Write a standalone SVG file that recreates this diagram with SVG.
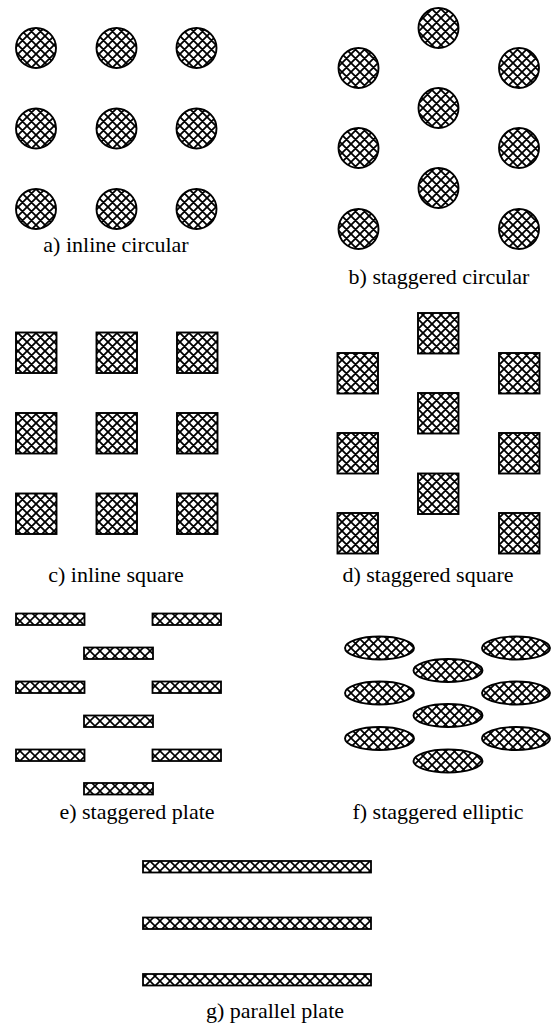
<svg xmlns="http://www.w3.org/2000/svg" width="551" height="1028" viewBox="0 0 551 1028">
<defs>
<pattern id="h" patternUnits="userSpaceOnUse" width="9" height="9">
<rect width="9" height="9" fill="#fff"/>
<path d="M0 0L9 9M0 9L9 0M-1 1L1 -1M8 10L10 8M-1 8L1 10M8 -1L10 1" stroke="#000" stroke-width="1.8"/>
</pattern>
<pattern id="hp" patternUnits="userSpaceOnUse" width="10" height="10" y="1">
<rect width="10" height="10" fill="#fff"/>
<path d="M0 0L10 10M0 10L10 0" stroke="#000" stroke-width="1.6"/>
</pattern>
<pattern id="he" patternUnits="userSpaceOnUse" width="9" height="9">
<rect width="9" height="9" fill="#fff"/>
<path d="M0 0L9 9M0 9L9 0" stroke="#000" stroke-width="1.7"/>
</pattern>
</defs>
<style>
.c{fill:url(#h);stroke:#000;stroke-width:1.9}
.p{fill:url(#hp);stroke:#000;stroke-width:1.8}
.e{fill:url(#he);stroke:#000;stroke-width:1.9}
.t{font-family:'Liberation Serif','DejaVu Serif',serif;font-size:22px;fill:#000;text-anchor:middle}
</style>
<rect width="551" height="1028" fill="#fff"/>
<g id="panel-a">
<circle class="c" cx="36" cy="48" r="20"/><circle class="c" cx="116.5" cy="48" r="20"/><circle class="c" cx="196.5" cy="48" r="20"/>
<circle class="c" cx="36" cy="128.5" r="20"/><circle class="c" cx="116.5" cy="128.5" r="20"/><circle class="c" cx="196.5" cy="128.5" r="20"/>
<circle class="c" cx="36" cy="209" r="20"/><circle class="c" cx="116.5" cy="209" r="20"/><circle class="c" cx="196.5" cy="209" r="20"/>
<text class="t" x="116" y="252">a) inline circular</text>
</g>
<g id="panel-b">
<circle class="c" cx="438.5" cy="28" r="20"/><circle class="c" cx="438.5" cy="108" r="20"/><circle class="c" cx="438.5" cy="188" r="20"/>
<circle class="c" cx="358.5" cy="68" r="20"/><circle class="c" cx="358.5" cy="148" r="20"/><circle class="c" cx="358.5" cy="229" r="20"/>
<circle class="c" cx="519" cy="68" r="20"/><circle class="c" cx="519" cy="148" r="20"/><circle class="c" cx="519" cy="229" r="20"/>
<text class="t" x="439" y="284">b) staggered circular</text>
</g>
<g id="panel-c">
<rect class="c" x="16" y="332.5" width="40.5" height="40.5"/><rect class="c" x="96.5" y="332.5" width="40.5" height="40.5"/><rect class="c" x="177" y="332.5" width="40.5" height="40.5"/>
<rect class="c" x="16" y="413" width="40.5" height="40.5"/><rect class="c" x="96.5" y="413" width="40.5" height="40.5"/><rect class="c" x="177" y="413" width="40.5" height="40.5"/>
<rect class="c" x="16" y="493.5" width="40.5" height="40.5"/><rect class="c" x="96.5" y="493.5" width="40.5" height="40.5"/><rect class="c" x="177" y="493.5" width="40.5" height="40.5"/>
<text class="t" x="116" y="582">c) inline square</text>
</g>
<g id="panel-d">
<rect class="c" x="418" y="313" width="40.5" height="40.5"/><rect class="c" x="418" y="393" width="40.5" height="40.5"/><rect class="c" x="418" y="473.5" width="40.5" height="40.5"/>
<rect class="c" x="337.5" y="353" width="40.5" height="40.5"/><rect class="c" x="337.5" y="433" width="40.5" height="40.5"/><rect class="c" x="337.5" y="513" width="40.5" height="40.5"/>
<rect class="c" x="499" y="353" width="40.5" height="40.5"/><rect class="c" x="499" y="433" width="40.5" height="40.5"/><rect class="c" x="499" y="513" width="40.5" height="40.5"/>
<text class="t" x="428" y="582">d) staggered square</text>
</g>
<g id="panel-e">
<rect class="p" x="16" y="613.5" width="68.5" height="11.5"/><rect class="p" x="152.5" y="613.5" width="68.5" height="11.5"/>
<rect class="p" x="84" y="647.5" width="69" height="11.5"/>
<rect class="p" x="16" y="681.5" width="68.5" height="11.5"/><rect class="p" x="152.5" y="681.5" width="68.5" height="11.5"/>
<rect class="p" x="84" y="715.5" width="69" height="11.5"/>
<rect class="p" x="16" y="749.5" width="68.5" height="11.5"/><rect class="p" x="152.5" y="749.5" width="68.5" height="11.5"/>
<rect class="p" x="84" y="783" width="69" height="11.5"/>
<text class="t" x="137" y="819">e) staggered plate</text>
</g>
<g id="panel-f">
<ellipse class="e" cx="379.5" cy="648" rx="34.5" ry="11.5"/><ellipse class="e" cx="516" cy="648" rx="34" ry="11.5"/>
<ellipse class="e" cx="448" cy="670.5" rx="34.5" ry="11.5"/>
<ellipse class="e" cx="379.5" cy="693" rx="34.5" ry="11.5"/><ellipse class="e" cx="516" cy="693" rx="34" ry="11.5"/>
<ellipse class="e" cx="448" cy="715.5" rx="34.5" ry="11.5"/>
<ellipse class="e" cx="379.5" cy="738.5" rx="34.5" ry="11.5"/><ellipse class="e" cx="516" cy="738.5" rx="34" ry="11.5"/>
<ellipse class="e" cx="448" cy="761" rx="34.5" ry="11.5"/>
<text class="t" x="438" y="819">f) staggered elliptic</text>
</g>
<g id="panel-g">
<rect class="p" x="143" y="861" width="228" height="11.5"/>
<rect class="p" x="143" y="917.5" width="228" height="11.5"/>
<rect class="p" x="143" y="974" width="228" height="11.5"/>
<text class="t" x="275" y="1018">g) parallel plate</text>
</g>
<g id="connectors"/>
</svg>
